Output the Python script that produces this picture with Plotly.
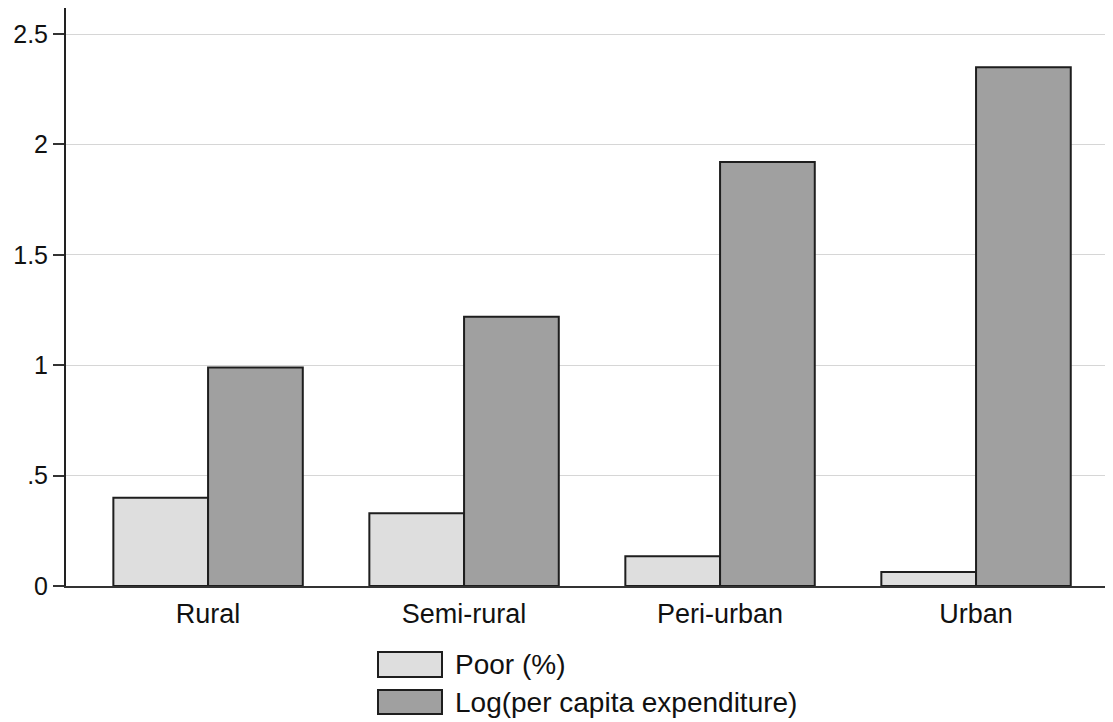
import plotly.graph_objects as go

categories = ["Rural", "Semi-rural", "Peri-urban", "Urban"]
poor_pct = [0.40, 0.33, 0.135, 0.063]
log_pce = [0.99, 1.22, 1.92, 2.35]
series_names = ["Poor (%)", "Log(per capita expenditure)"]
tick_vals = [0, 0.5, 1, 1.5, 2, 2.5]
tick_text = ["0", ".5", "1", "1.5", "2", "2.5"]

colors = ["#dedede", "#a0a0a0"]
edge = "#1e1e1e"
font = "Liberation Sans, Arial, sans-serif"
FS = 27
FSL = 28
FSY = 25

fig = go.Figure()
for name, vals, col in zip(series_names, [poor_pct, log_pce], colors):
    fig.add_trace(go.Bar(x=categories, y=vals, name=name, marker=dict(color=col, line=dict(color=edge, width=2)),
                         showlegend=False))

# page offset of 8px (body margin)
OFF = 8
W, H = 1113 - OFF, 722 - OFF
L, R, T, B = 66 - OFF, 0, 0, 136
pw, ph = W - L - R, H - T - B

def px(x):
    return (x - OFF - L) / pw

def py(y):
    return (H - B - (y - OFF)) / ph

shapes = []
annotations = []
for i, (name, col) in enumerate(zip(series_names, colors)):
    y0, y1 = [(652, 677), (690, 714)][i]
    shapes.append(dict(type="rect", xref="paper", yref="paper", x0=px(378), x1=px(442), y0=py(y1), y1=py(y0),
                       fillcolor=col, line=dict(color=edge, width=2)))
    annotations.append(dict(xref="paper", yref="paper", x=px(453), y=py((y0 + y1) / 2), text=name,
                            showarrow=False, xanchor="left", yanchor="middle",
                            font=dict(family=font, size=FSL, color="#111")))

fig.update_layout(
    width=W, height=H, barmode="group", bargap=0.26, bargroupgap=0,
    margin=dict(l=L, r=R, t=T, b=B),
    paper_bgcolor="white", plot_bgcolor="white",
    font=dict(family=font, size=FS, color="#111"),
    shapes=shapes, annotations=annotations,
    xaxis=dict(range=[-0.555, 3.535], showline=True, linecolor="#333", linewidth=2, ticks="",
               showgrid=False, tickfont=dict(size=FS), zeroline=False, ticklabelstandoff=3),
    yaxis=dict(range=[0, 2.618], tickvals=tick_vals, ticktext=tick_text, showline=True, linecolor="#222",
               linewidth=2, ticks="outside", ticklen=11, tickwidth=1.5, tickcolor="#333",
               showgrid=True, gridcolor="#d6d6d6", gridwidth=1, zeroline=False, tickfont=dict(size=FSY)),
)

fig.write_html("out.html")
